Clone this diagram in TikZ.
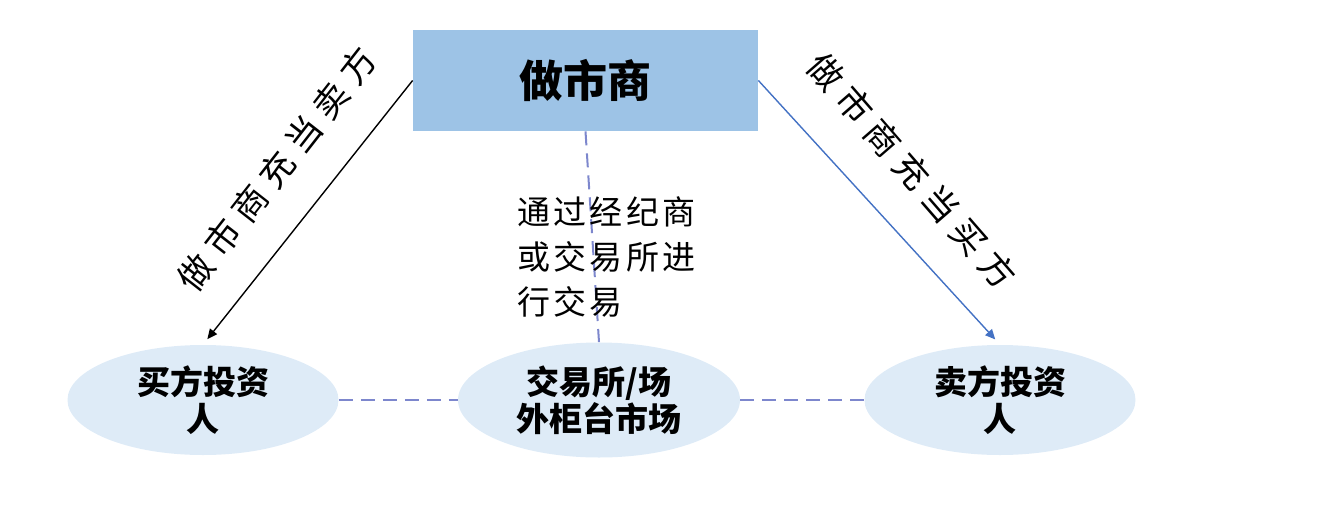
\documentclass[tikz,border=0pt]{standalone}
\usepackage{fontspec}
\newfontfamily\cjk{Noto Sans CJK SC}
\usetikzlibrary{arrows.meta,positioning,shapes.geometric}
\definecolor{boxblue}{RGB}{157,195,230}
\definecolor{ovalblue}{RGB}{222,235,247}
\definecolor{dashblue}{RGB}{125,135,205}
\definecolor{arrblue}{RGB}{68,114,196}
\tikzset{
  mmbox/.style = {fill=boxblue, minimum width=172.5pt, minimum height=50.5pt, inner sep=0pt,
                  font=\cjk\bfseries\fontsize{22}{26}\selectfont},
  party/.style = {ellipse, fill=ovalblue, minimum width=135.5pt, minimum height=55pt, inner sep=0pt,
                  align=center, font=\cjk\bfseries\fontsize{16.5}{18.5}\selectfont},
  link/.style  = {draw=dashblue, line width=1pt, dash pattern=on 7pt off 4pt},
  flow/.style  = {-{Triangle[length=5pt,width=4.5pt]}, line width=0.7pt, shorten >=3.5pt},
  side/.style  = {inner sep=0pt, font=\cjk\fontsize{17.5}{20}\selectfont\addfontfeature{LetterSpace=25}},
  note/.style  = {inner sep=0pt, align=left, font=\cjk\fontsize{16.5}{22.5}\selectfont\addfontfeature{LetterSpace=10}},
}
\begin{document}
\begin{tikzpicture}[x=0.5pt,y=-0.5pt]
  \useasboundingbox (0,0) rectangle (1324,504);
  \node[mmbox] (mm) at (585.5,80.5) {做市商};
  \node[party] (buyer) at (203,400) {买方投资\\人};
  \node[party, minimum width=141pt, minimum height=57.5pt] (mkt) at (599,400) {交易所/场\\外柜台市场};
  \node[party] (seller) at (1000,400) {卖方投资\\人};
  % market maker to investors
  \draw[flow] (mm.west) -- (buyer.north);
  \draw[flow, draw=arrblue, fill=arrblue] (mm.east) -- (seller.north);
  % dashed links
  \draw[link] (mm.south) -- (mkt.north);
  \draw[link] (buyer) -- (mkt);
  \draw[link] (mkt) -- (seller);
  \node[side, rotate=52] (lsell) at (277,169) {做市商充当卖方};
  \node[side, rotate=-49] (lbuy) at (912,171) {做市商充当买方};
  \node[note, anchor=west] (via) at (517,257) {通过经纪商\\或交易所进\\行交易};
\end{tikzpicture}
\end{document}
